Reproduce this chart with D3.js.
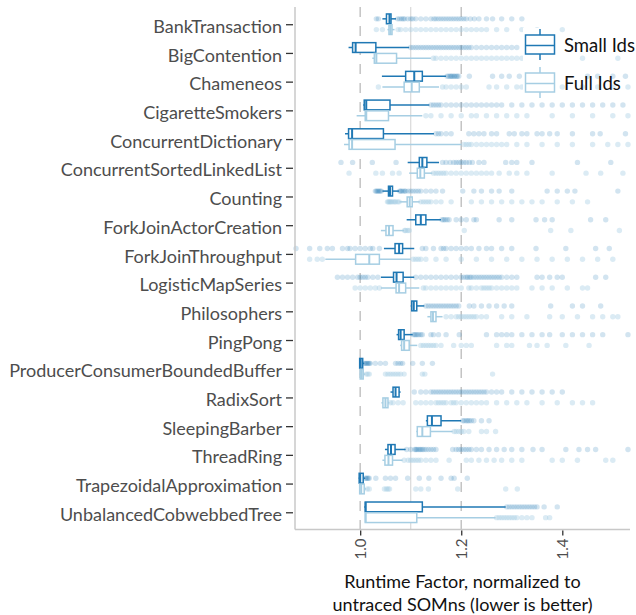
<!DOCTYPE html>
<html>
<head>
<meta charset="utf-8">
<script src="https://cdn.jsdelivr.net/npm/d3@7"></script>
<style>
  body { margin: 0; background: #fff; }
  svg text { font-family: Lato, "Open Sans", sans-serif; }
</style>
</head>
<body>
<div id="chart"></div>
<script>
var benchmarks = ["BankTransaction", "BigContention", "Chameneos", "CigaretteSmokers",
  "ConcurrentDictionary", "ConcurrentSortedLinkedList", "Counting", "ForkJoinActorCreation",
  "ForkJoinThroughput", "LogisticMapSeries", "Philosophers", "PingPong",
  "ProducerConsumerBoundedBuffer", "RadixSort", "SleepingBarber", "ThreadRing",
  "TrapezoidalApproximation", "UnbalancedCobwebbedTree"];
var seriesNames = ["Small Ids", "Full Ids"];
var xTicks = [1.0, 1.2, 1.4];
var dashedLines = [1.0, 1.2];
var solidLines = [1.1];
var axisTitle = ["Runtime Factor, normalized to", "untraced SOMns (lower is better)"];

// box statistics, one entry per benchmark
var smallLow  = [1.044, 0.977, 1.043, 1.006, 0.970, 1.094, 1.044, 1.092, 1.047, 1.041, 1.100, 1.072, 0.998, 1.060, 1.130, 1.049, 0.997, 1.008];
var smallQ1   = [1.052, 0.985, 1.090, 1.008, 0.977, 1.117, 1.056, 1.110, 1.069, 1.066, 1.102, 1.076, 0.999, 1.065, 1.133, 1.055, 0.998, 1.010];
var smallMed  = [1.058, 0.991, 1.107, 1.012, 0.984, 1.123, 1.059, 1.120, 1.077, 1.072, 1.106, 1.080, 1.001, 1.070, 1.142, 1.061, 1.000, 1.011];
var smallQ3   = [1.061, 1.031, 1.123, 1.059, 1.046, 1.132, 1.064, 1.130, 1.084, 1.085, 1.112, 1.087, 1.005, 1.077, 1.160, 1.069, 1.006, 1.123];
var smallHigh = [1.071, 1.097, 1.170, 1.137, 1.146, 1.156, 1.077, 1.160, 1.107, 1.107, 1.127, 1.104, 1.008, 1.080, 1.200, 1.090, 1.010, 1.288];

var fullLow  = [1.054, 1.024, 1.044, 0.993, 0.968, 1.097, 1.078, 1.041, 0.931, 1.041, 1.133, 1.079, 0.999, 1.042, 1.111, 1.044, 0.998, 1.010];
var fullQ1   = [1.057, 1.028, 1.087, 1.010, 0.978, 1.113, 1.093, 1.051, 0.991, 1.071, 1.140, 1.082, 1.000, 1.045, 1.113, 1.049, 0.999, 1.010];
var fullMed  = [1.060, 1.032, 1.102, 1.012, 0.984, 1.119, 1.098, 1.057, 1.018, 1.077, 1.144, 1.087, 1.003, 1.050, 1.123, 1.056, 1.002, 1.011];
var fullQ3   = [1.063, 1.072, 1.117, 1.056, 1.069, 1.127, 1.103, 1.065, 1.038, 1.090, 1.150, 1.097, 1.006, 1.055, 1.139, 1.064, 1.008, 1.112];
var fullHigh = [1.068, 1.140, 1.156, 1.123, 1.200, 1.143, 1.118, 1.087, 1.100, 1.117, 1.163, 1.113, 1.010, 1.058, 1.183, 1.084, 1.012, 1.268];

// outlying runs
var smallOutliers = [
  [1.032, 1.036, 1.074, 1.078, 1.082, 1.085, 1.088, 1.094, 1.100, 1.104, 1.11, 1.12, 1.13, 1.14, 1.146, 1.15, 1.155, 1.16, 1.165, 1.17, 1.175, 1.18, 1.185, 1.19, 1.195, 1.2, 1.205, 1.21, 1.218, 1.226, 1.235, 1.25, 1.262, 1.28, 1.3, 1.32],
  [1.10, 1.105, 1.11, 1.115, 1.12, 1.125, 1.13, 1.135, 1.14, 1.145, 1.15, 1.155, 1.16, 1.165, 1.17, 1.175, 1.18, 1.185, 1.19, 1.195, 1.2, 1.205, 1.21, 1.215, 1.22, 1.23, 1.24, 1.25, 1.26, 1.27, 1.28, 1.29, 1.30, 1.31],
  [1.172, 1.175, 1.178, 1.18, 1.182, 1.185, 1.187, 1.19, 1.192, 1.195, 1.216, 1.262, 1.28, 1.295, 1.315, 1.34, 1.45, 1.47, 1.50, 1.525],
  [1.14, 1.145, 1.15, 1.155, 1.16, 1.17, 1.18, 1.19, 1.2, 1.21, 1.22, 1.23, 1.24, 1.25, 1.26, 1.27, 1.28, 1.30, 1.32, 1.34, 1.36, 1.38, 1.40, 1.42, 1.44, 1.46, 1.48, 1.50, 1.52],
  [1.15, 1.155, 1.16, 1.17, 1.18, 1.215, 1.225, 1.235, 1.245, 1.26, 1.27, 1.295, 1.305, 1.32, 1.33, 1.35, 1.36, 1.375, 1.39, 1.42, 1.46, 1.475, 1.525],
  [0.962, 0.985, 1.024, 1.071, 1.163, 1.17, 1.178, 1.185, 1.19, 1.195, 1.2, 1.205, 1.21, 1.216, 1.222, 1.235, 1.245, 1.288, 1.3, 1.31, 1.34, 1.43, 1.496],
  [1.030, 1.032, 1.034, 1.036, 1.038, 1.04, 1.042, 1.078, 1.08, 1.082, 1.085, 1.088, 1.09, 1.095, 1.1, 1.105, 1.11, 1.115, 1.12, 1.13, 1.14, 1.15, 1.163, 1.203, 1.225, 1.24, 1.26, 1.275, 1.3, 1.37, 1.39, 1.41, 1.425, 1.51],
  [1.162, 1.165, 1.168, 1.172, 1.176, 1.19, 1.2, 1.21, 1.225, 1.23, 1.275, 1.3, 1.348, 1.365, 1.38, 1.456, 1.486],
  [0.873, 0.9, 0.92, 0.935, 0.945, 0.965, 0.975, 0.98, 0.99, 1.0, 1.01, 1.02, 1.025, 1.038, 1.123, 1.13, 1.145, 1.16, 1.165, 1.17, 1.18, 1.19, 1.2, 1.21, 1.22, 1.235, 1.25, 1.26, 1.28, 1.3, 1.348, 1.407, 1.466, 1.493],
  [0.955, 0.965, 0.975, 0.985, 0.995, 1.0, 1.005, 1.01, 1.015, 1.025, 1.035, 1.11, 1.12, 1.13, 1.14, 1.15, 1.16, 1.17, 1.18, 1.19, 1.2, 1.205, 1.21, 1.213, 1.217, 1.22, 1.225, 1.23, 1.235, 1.24, 1.245, 1.25, 1.255, 1.26, 1.265, 1.27, 1.275, 1.28, 1.29, 1.3, 1.31, 1.35, 1.36, 1.375, 1.39, 1.4, 1.466, 1.486],
  [1.13, 1.135, 1.14, 1.145, 1.15, 1.155, 1.16, 1.165, 1.17, 1.175, 1.18, 1.185, 1.19, 1.195, 1.216, 1.225, 1.24, 1.255, 1.27, 1.285, 1.3, 1.377, 1.42, 1.44, 1.476],
  [1.105, 1.108, 1.11, 1.113, 1.116, 1.12, 1.123, 1.14, 1.145, 1.155, 1.17, 1.196, 1.25, 1.27, 1.28, 1.29, 1.3, 1.32, 1.34, 1.36, 1.375, 1.4, 1.42, 1.44, 1.46, 1.48, 1.53],
  [1.008, 1.01, 1.012, 1.014, 1.016, 1.018, 1.02, 1.03, 1.04, 1.05, 1.07, 1.075, 1.08, 1.084, 1.104, 1.123, 1.143],
  [1.107, 1.12, 1.13, 1.14, 1.145, 1.15, 1.155, 1.16, 1.165, 1.17, 1.175, 1.18, 1.185, 1.19, 1.195, 1.2, 1.205, 1.21, 1.215, 1.22, 1.225, 1.23, 1.235, 1.24, 1.245, 1.25, 1.26, 1.27, 1.28, 1.3, 1.32, 1.34, 1.36, 1.38, 1.4],
  [1.203, 1.206, 1.21, 1.213, 1.216, 1.22, 1.225, 1.24, 1.255],
  [1.092, 1.1, 1.108, 1.11, 1.112, 1.115, 1.118, 1.12, 1.123, 1.126, 1.13, 1.135, 1.14, 1.145, 1.15, 1.183, 1.19, 1.195, 1.2, 1.205, 1.21, 1.215, 1.22, 1.23, 1.24, 1.255, 1.27, 1.285, 1.3, 1.32, 1.342, 1.36, 1.407, 1.433, 1.45, 1.466, 1.53],
  [1.01, 1.012, 1.014, 1.016, 1.018, 1.031, 1.05, 1.06, 1.07, 1.094, 1.117, 1.136, 1.16, 1.18, 1.186, 1.212],
  [1.29, 1.295, 1.3, 1.305, 1.31, 1.315, 1.32, 1.325, 1.33, 1.335, 1.34, 1.345, 1.35, 1.364, 1.39]
];
var fullOutliers = [
  [1.032, 1.044, 1.075, 1.08, 1.09, 1.1, 1.11, 1.12, 1.13, 1.14, 1.15, 1.16, 1.17, 1.18, 1.19, 1.2, 1.21, 1.22, 1.23, 1.24, 1.25, 1.27, 1.29, 1.32, 1.35, 1.40],
  [1.145, 1.15, 1.16, 1.17, 1.18, 1.19, 1.2, 1.21, 1.22, 1.23, 1.24, 1.25, 1.26, 1.27, 1.28, 1.29, 1.3, 1.31, 1.32, 1.35, 1.38, 1.44, 1.51],
  [1.036, 1.163, 1.17, 1.18, 1.19, 1.2, 1.21, 1.255, 1.27, 1.29, 1.31, 1.32, 1.40, 1.44, 1.47, 1.5, 1.53],
  [1.13, 1.14, 1.16, 1.18, 1.2, 1.22, 1.23, 1.25, 1.27, 1.29, 1.31, 1.33, 1.38, 1.42, 1.46, 1.50, 1.53],
  [1.205, 1.21, 1.215, 1.22, 1.23, 1.24, 1.25, 1.26, 1.27, 1.28, 1.29, 1.31, 1.33, 1.36, 1.39, 1.42, 1.46, 1.49, 1.51, 1.53],
  [0.978, 1.031, 1.044, 1.064, 1.077, 1.145, 1.15, 1.155, 1.16, 1.165, 1.17, 1.18, 1.19, 1.2, 1.21, 1.22, 1.23, 1.24, 1.25, 1.26, 1.275, 1.295, 1.31, 1.33, 1.38, 1.447, 1.476, 1.52],
  [1.054, 1.056, 1.058, 1.06, 1.062, 1.065, 1.068, 1.07, 1.074, 1.077, 1.12, 1.125, 1.13, 1.135, 1.14, 1.15, 1.16, 1.18, 1.22, 1.24, 1.26, 1.28, 1.3, 1.32, 1.34, 1.36, 1.39, 1.42, 1.45],
  [1.088, 1.09, 1.094, 1.097, 1.206, 1.377, 1.417, 1.513],
  [0.9, 0.915, 0.925, 1.105, 1.11, 1.115, 1.12, 1.13, 1.15, 1.17, 1.2, 1.23, 1.26, 1.29, 1.32, 1.35, 1.38, 1.41, 1.44, 1.47, 1.5],
  [0.99, 1.0, 1.01, 1.02, 1.03, 1.038, 1.125, 1.13, 1.14, 1.15, 1.16, 1.17, 1.18, 1.19, 1.2, 1.215, 1.22, 1.23, 1.24, 1.245, 1.25, 1.255, 1.26, 1.27, 1.28, 1.29, 1.3, 1.31, 1.34, 1.36, 1.38, 1.41, 1.44, 1.45],
  [1.17, 1.18, 1.19, 1.195, 1.2, 1.205, 1.21, 1.215, 1.22, 1.225, 1.23, 1.24, 1.25, 1.28, 1.3, 1.33, 1.375, 1.4, 1.43, 1.46, 1.48, 1.5, 1.51],
  [1.12, 1.125, 1.13, 1.135, 1.14, 1.145, 1.15, 1.16, 1.185, 1.2, 1.21, 1.22, 1.27, 1.29, 1.3, 1.335, 1.35, 1.37, 1.407, 1.453],
  [1.012, 1.015, 1.018, 1.05, 1.055, 1.06, 1.065, 1.07, 1.075, 1.08, 1.087, 1.123, 1.128, 1.262],
  [1.06, 1.065, 1.075, 1.085, 1.11, 1.12, 1.13, 1.14, 1.15, 1.155, 1.16, 1.165, 1.17, 1.18, 1.185, 1.19, 1.2, 1.21, 1.22, 1.23, 1.24, 1.25, 1.27, 1.29, 1.31, 1.33, 1.36, 1.39, 1.42, 1.44, 1.46],
  [1.186, 1.19, 1.195, 1.2, 1.205, 1.215, 1.24, 1.25, 1.268],
  [1.087, 1.095, 1.1, 1.105, 1.11, 1.115, 1.12, 1.13, 1.14, 1.15, 1.176, 1.21, 1.22, 1.235, 1.25, 1.265, 1.28, 1.3, 1.32, 1.38, 1.4, 1.43, 1.486, 1.5],
  [1.014, 1.018, 1.048, 1.052, 1.055, 1.058, 1.11, 1.12, 1.135, 1.193, 1.288, 1.311],
  [1.27, 1.275, 1.28, 1.285, 1.29, 1.295, 1.3, 1.305, 1.31, 1.32, 1.33, 1.34, 1.367, 1.375]
];

var colors = ["#1f78b4", "#a6cee3"];
var pointAlpha = [0.2, 0.4];

var width = 636, height = 615;
var plotLeft = 295, plotRight = 630, plotTop = 7, plotBottom = 529.5;

var svg = d3.select("#chart").append("svg")
  .attr("width", width)
  .attr("height", height);

var x = d3.scaleLinear().domain([0.871, 1.534]).range([plotLeft, plotRight]);
var step = (plotBottom - plotTop) / (benchmarks.length - 1 + 1.2);
var y = d3.scalePoint().domain(benchmarks)
  .range([plotTop + 0.6 * step, plotBottom - 0.6 * step]);
var dodge = d3.scaleBand().domain(seriesNames).range([-0.375 * step, 0.375 * step]);
var boxH = dodge.bandwidth();

// reference lines
svg.selectAll(".solidline").data(solidLines).enter().append("line")
  .attr("x1", d => x(d)).attr("x2", d => x(d))
  .attr("y1", plotTop).attr("y2", plotBottom)
  .style("stroke", "#d9d9d9").style("stroke-width", 1.2);
svg.selectAll(".dashline").data(dashedLines).enter().append("line")
  .attr("x1", d => x(d)).attr("x2", d => x(d))
  .attr("y1", plotTop).attr("y2", plotBottom)
  .style("stroke", "#c4c4c4").style("stroke-width", 1.5)
  .style("stroke-dasharray", "10,9");

// build rows from the arrays
var rows = [];
benchmarks.forEach(function(b, i) {
  rows.push({bench: b, s: 0, lo: smallLow[i], q1: smallQ1[i], med: smallMed[i], q3: smallQ3[i], hi: smallHigh[i], out: smallOutliers[i]});
  rows.push({bench: b, s: 1, lo: fullLow[i], q1: fullQ1[i], med: fullMed[i], q3: fullQ3[i], hi: fullHigh[i], out: fullOutliers[i]});
});
function rowY(d) { return y(d.bench) + dodge(seriesNames[d.s]) + boxH / 2; }

var plot = svg.append("g");

rows.forEach(function(d) {
  var cy = rowY(d);
  plot.append("g").selectAll("circle").data(d.out).enter().append("circle")
    .attr("cx", v => x(v)).attr("cy", cy).attr("r", 2.7)
    .style("fill", colors[d.s]).style("fill-opacity", pointAlpha[d.s]);
});

var box = plot.selectAll(".box").data(rows).enter().append("g").attr("class", "box");
box.append("line")
  .attr("x1", d => x(d.lo)).attr("x2", d => x(d.hi))
  .attr("y1", rowY).attr("y2", rowY)
  .style("stroke", d => colors[d.s]).style("stroke-width", 1.5);
box.append("rect")
  .attr("x", d => x(d.q1)).attr("width", d => Math.max(1, x(d.q3) - x(d.q1)))
  .attr("y", d => rowY(d) - boxH / 2 + 0.5).attr("height", boxH - 1)
  .style("fill", "white").style("stroke", d => colors[d.s]).style("stroke-width", 1.5);
box.append("line")
  .attr("x1", d => x(d.med)).attr("x2", d => x(d.med))
  .attr("y1", d => rowY(d) - boxH / 2 + 0.5).attr("y2", d => rowY(d) + boxH / 2 - 0.5)
  .style("stroke", d => colors[d.s]).style("stroke-width", 2);

// axes
svg.append("line").attr("x1", plotLeft).attr("x2", plotLeft)
  .attr("y1", plotTop).attr("y2", plotBottom)
  .style("stroke", "#c8c8c8").style("stroke-width", 1.5);
svg.append("line").attr("x1", plotLeft).attr("x2", plotRight)
  .attr("y1", plotBottom).attr("y2", plotBottom)
  .style("stroke", "#c8c8c8").style("stroke-width", 1.5);

var yAxis = svg.append("g")
  .attr("transform", "translate(" + (plotLeft - 2) + ",0)")
  .call(d3.axisLeft(y).tickSize(7).tickPadding(4));
yAxis.select(".domain").remove();
yAxis.selectAll(".tick line").style("stroke", "#333").style("stroke-width", 1.3);
yAxis.selectAll(".tick text").attr("dy", "0.45em")
  .style("font-size", "18px").style("fill", "#4d4d4d")
  .style("font-family", "Lato, sans-serif");

var xAxis = svg.append("g")
  .attr("transform", "translate(0," + (plotBottom + 1) + ")")
  .call(d3.axisBottom(x).tickValues(xTicks).tickFormat(d3.format(".1f")).tickSize(5));
xAxis.select(".domain").remove();
xAxis.selectAll(".tick line").style("stroke", "#333").style("stroke-width", 1.3);
xAxis.selectAll(".tick text")
  .attr("transform", "rotate(-90)")
  .attr("x", -8).attr("y", 0).attr("dy", "0.35em")
  .style("text-anchor", "end")
  .style("font-size", "15px").style("fill", "#4d4d4d")
  .style("font-family", "Lato, sans-serif");

svg.append("text")
  .attr("x", (plotLeft + plotRight) / 2).attr("y", 588)
  .attr("text-anchor", "middle")
  .style("font-size", "18px").style("fill", "#111")
  .selectAll("tspan").data(axisTitle).enter().append("tspan")
  .attr("x", (plotLeft + plotRight) / 2)
  .attr("dy", (d, i) => i ? 23 : 0)
  .text(d => d);

// legend
var legend = svg.append("g").attr("transform", "translate(525,28)");
var key = legend.selectAll(".key").data(seriesNames).enter().append("g")
  .attr("transform", (d, i) => "translate(0," + (i * 38) + ")");
key.append("rect").attr("x", -2).attr("y", 0).attr("width", 34).attr("height", 34)
  .style("fill", "white");
key.append("line").attr("x1", 15).attr("x2", 15).attr("y1", 1).attr("y2", 32)
  .style("stroke", (d, i) => colors[i]).style("stroke-width", 1.5);
key.append("rect").attr("x", 0.5).attr("y", 7).attr("width", 29).attr("height", 19)
  .style("fill", "white").style("stroke", (d, i) => colors[i]).style("stroke-width", 1.5);
key.append("line").attr("x1", 0.5).attr("x2", 29.5).attr("y1", 17.5).attr("y2", 17.5)
  .style("stroke", (d, i) => colors[i]).style("stroke-width", 1.5);
key.append("text").attr("x", 39).attr("y", 24)
  .style("font-size", "18.5px").style("fill", "#111")
  .text(d => d);
</script>
</body>
</html>
